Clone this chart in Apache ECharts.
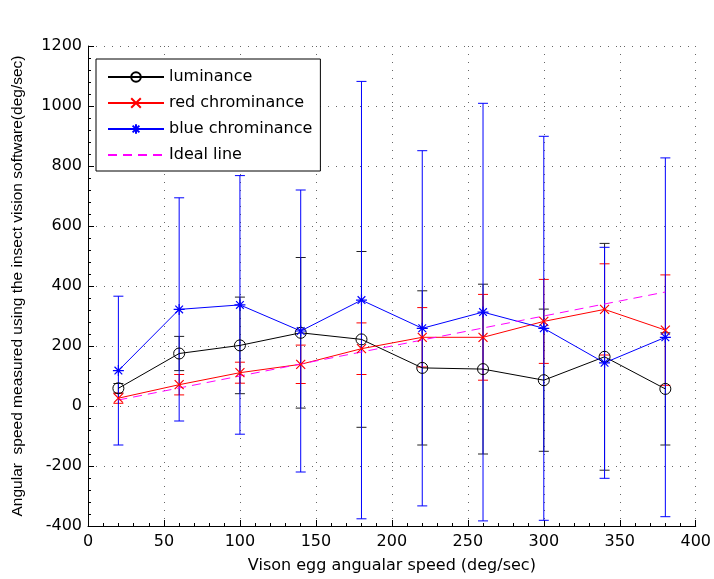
<!DOCTYPE html>
<html>
<head>
<meta charset="utf-8">
<script src="https://cdn.jsdelivr.net/npm/echarts@6/dist/echarts.min.js"></script>
<style>html,body{margin:0;padding:0;background:#fff;}#c{width:714px;height:579px;}</style>
</head>
<body>
<div id="c"></div>
<script>
const speeds = [20, 60, 100, 140, 180, 220, 260, 300, 340, 380];
const luminance = [59, 175, 202, 244, 222, 127, 123, 86, 164, 57];
const luminanceErr = [16, 57, 161, 251, 293, 257, 283, 237, 378, 187];
const redChrom = [26, 71, 111, 139, 191, 229, 229, 282, 322, 253];
const redChromErr = [17, 34, 35, 64, 86, 99, 143, 140, 152, 184];
const blueChrom = [118, 322, 337, 250, 353, 259, 313, 259, 144, 229];
const blueChromErr = [248, 372, 431, 470, 729, 592, 696, 640, 385, 598];
const idealX = [20, 380];
const idealY = [20, 380];

const hFont = 'DejaVu Sans';
const chart = echarts.init(document.getElementById('c'));

function pts(xs, ys) { return xs.map((x, i) => [x, ys[i]]); }
function errRows(xs, ys, es) { return xs.map((x, i) => [x, ys[i], es[i]]); }

function errSeries(name, rows, color) {
  return {
    type: 'custom',
    name: name,
    data: rows,
    silent: true,
    clip: false,
    renderItem: function (params, api) {
      const x = api.value(0), m = api.value(1), e = api.value(2);
      const t = api.coord([x, m + e]);
      const b = api.coord([x, m - e]);
      const w = 5;
      const st = { stroke: color, lineWidth: 1 };
      return {
        type: 'group',
        children: [
          { type: 'line', shape: { x1: t[0], y1: t[1], x2: b[0], y2: b[1] }, style: st },
          { type: 'line', shape: { x1: t[0] - w, y1: t[1], x2: t[0] + w, y2: t[1] }, style: st },
          { type: 'line', shape: { x1: b[0] - w, y1: b[1], x2: b[0] + w, y2: b[1] }, style: st }
        ]
      };
    }
  };
}

const xMark = 'path://M0,0L10,10M0,10L10,0';
const starMark = 'path://M5,0L5,10M0,5L10,5M1.5,1.5L8.5,8.5M1.5,8.5L8.5,1.5';

const option = {
  animation: false,
  backgroundColor: '#fff',
  grid: { left: 88, right: 18, top: 46, bottom: 53, containLabel: false },
  legend: {
    orient: 'vertical',
    left: 96, top: 59,
    padding: [10, 8, 8, 11],
    itemWidth: 56, itemHeight: 12, itemGap: 10,
    borderColor: '#000', borderWidth: 1, backgroundColor: '#fff',
    textStyle: { fontFamily: hFont, fontSize: 16, color: '#000' },
    data: [
      'luminance', 'red chrominance', 'blue chrominance',
      { name: 'Ideal line', itemStyle: { color: 'rgba(0,0,0,0)', borderColor: 'rgba(0,0,0,0)', borderWidth: 0 } }
    ],
    selectedMode: false
  },
  xAxis: {
    type: 'value', min: 0, max: 400, interval: 50,
    name: 'Vison egg angualar speed (deg/sec)',
    nameLocation: 'middle', nameGap: 32,
    nameTextStyle: { fontFamily: hFont, fontSize: 16, color: '#000' },
    axisLine: { onZero: false, lineStyle: { color: '#000', width: 1 } },
    axisTick: { inside: true, length: 6, lineStyle: { color: '#000' } },
    minorTick: { show: true, splitNumber: 5, length: 3, lineStyle: { color: '#000' } },
    axisLabel: { fontFamily: hFont, fontSize: 16, color: '#000', margin: 8 },
    splitLine: { show: true, lineStyle: { color: '#666', type: [1, 7], width: 1 } }
  },
  yAxis: {
    type: 'value', min: -400, max: 1200, interval: 200,
    name: 'Angular  speed measured using the insect vision software(deg/sec)',
    nameLocation: 'middle', nameGap: 62,
    nameTextStyle: { fontFamily: 'Liberation Sans', fontSize: 15.5, color: '#000' },
    axisLine: { show: true, onZero: false, lineStyle: { color: '#000', width: 1 } },
    axisTick: { show: true, inside: true, length: 6, lineStyle: { color: '#000' } },
    minorTick: { show: true, splitNumber: 5, length: 3, lineStyle: { color: '#000' } },
    axisLabel: { fontFamily: hFont, fontSize: 16, color: '#000', margin: 6, formatter: function (v) { return String(v); } },
    splitLine: { show: true, lineStyle: { color: '#666', type: [1, 7], width: 1 } }
  },
  series: [
    errSeries('lumErr', errRows(speeds, luminance, luminanceErr), '#222'),
    {
      type: 'line', name: 'luminance', data: pts(speeds, luminance),
      symbol: 'circle', symbolSize: 11,
      lineStyle: { color: '#000', width: 1 },
      itemStyle: { color: 'rgba(0,0,0,0)', borderColor: '#000', borderWidth: 1 }
    },
    errSeries('redErr', errRows(speeds, redChrom, redChromErr), '#ff0000'),
    {
      type: 'line', name: 'red chrominance', data: pts(speeds, redChrom),
      symbol: xMark, symbolSize: 9,
      lineStyle: { color: '#ff0000', width: 1 },
      itemStyle: { color: 'rgba(0,0,0,0)', borderColor: '#ff0000', borderWidth: 1.2 }
    },
    errSeries('blueErr', errRows(speeds, blueChrom, blueChromErr), '#0000ff'),
    {
      type: 'line', name: 'blue chrominance', data: pts(speeds, blueChrom),
      symbol: starMark, symbolSize: 11,
      lineStyle: { color: '#0000ff', width: 1 },
      itemStyle: { color: 'rgba(0,0,0,0)', borderColor: '#0000ff', borderWidth: 1.2 }
    },
    {
      type: 'line', name: 'Ideal line', data: pts(idealX, idealY),
      symbol: 'none', showSymbol: false,
      lineStyle: { color: '#ff00ff', width: 1, type: [9, 6] },
      itemStyle: { color: '#ff00ff' }
    }
  ]
};
chart.setOption(option);
</script>
</body>
</html>
